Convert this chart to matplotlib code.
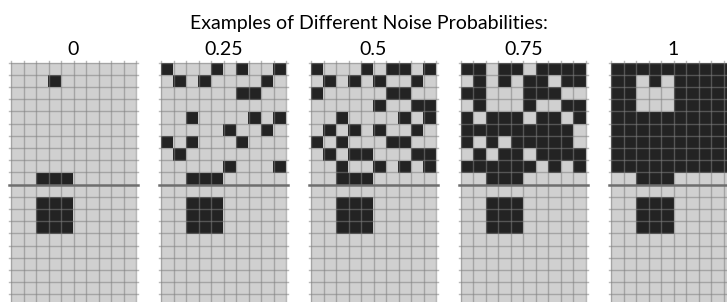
import matplotlib.pyplot as plt
import numpy as np
from matplotlib.colors import ListedColormap

# noise probabilities shown above each panel
probs = ['0', '0.25', '0.5', '0.75', '1']

# top half of each grid (10 rows x 10 cols), '#' = dark cell
top_0 = ['..........',
         '...#......',
         '..........',
         '..........',
         '..........',
         '..........',
         '..........',
         '..........',
         '..........',
         '..###.....']
top_025 = ['#...#.#..#',
           '.#.#....#.',
           '......##..',
           '..........',
           '..#....#.#',
           '.....#..#.',
           '#.#...#...',
           '.#........',
           '.....#...#',
           '..###.....']
top_05 = ['#...#.##.#',
          '.#.#.#..#.',
          '#.....##..',
          '.....#..##',
          '..#....#.#',
          '.#.#.#..#.',
          '#.#...##..',
          '.#.##...##',
          '..#..#.#.#',
          '..###.....']
top_075 = ['##.##.####',
           '.#.#.##.##',
           '##...###..',
           '.#...#..##',
           '#.###.##.#',
           '#########.',
           '#.#.#####.',
           '.#.##.####',
           '######.#.#',
           '..###.....']
top_1 = ['##########',
         '##.#.#####',
         '##...#####',
         '##...#####',
         '##########',
         '##########',
         '##########',
         '##########',
         '##########',
         '..###.....']
# bottom half is the same for every panel
bottom = ['..........',
          '..###.....',
          '..###.....',
          '..###.....',
          '..........',
          '..........',
          '..........',
          '..........',
          '..........',
          '..........']

tops = [top_0, top_025, top_05, top_075, top_1]

W, H = 727, 302
fig = plt.figure(figsize=(W / 100, H / 100), dpi=100)
cmap = ListedColormap(['#d0d0d0', '#232323'])

fig.text(369 / W, 1 - 29 / H, 'Examples of Different Noise Probabilities:',
         ha='center', va='baseline', fontsize=14, family='Lato')

cell = 12.5
for i, (p, top) in enumerate(zip(probs, tops)):
    rows = top + bottom
    grid = np.array([[1 if ch == '#' else 0 for ch in r] for r in rows])
    x0 = 11 + 150 * i
    y0 = 62.5
    ax = fig.add_axes([x0 / W, 1 - (y0 + 20 * 12.2) / H, 10 * cell / W, 20 * 12.2 / H])
    ax.imshow(grid, cmap=cmap, vmin=0, vmax=1, aspect='auto',
              extent=(0, 10, 20, 0), interpolation='nearest')
    for k in range(0, 11):
        ax.plot([k, k], [-0.15, 20], color='#808080', alpha=0.55, lw=1, clip_on=False)
    for k in range(0, 21):
        if k == 10:
            ax.plot([-0.15, 10.15], [k, k], color='#6e6e6e', lw=1.8, clip_on=False)
        else:
            ax.plot([-0.15, 10.15], [k, k], color='#808080', alpha=0.55, lw=1, clip_on=False)
    ax.set_xlim(0, 10)
    ax.set_ylim(20, 0)
    ax.axis('off')
    fig.text((x0 + 5 * cell) / W, 1 - 55 / H, p, ha='center', va='baseline',
             fontsize=14, family='Lato')

fig.savefig('out.png', dpi=100)
